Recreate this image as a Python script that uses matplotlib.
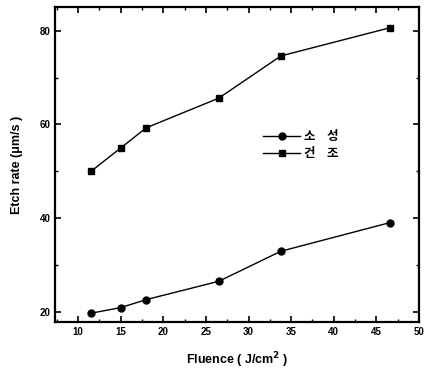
import matplotlib
matplotlib.use("Agg")
import matplotlib.pyplot as plt
from matplotlib.ticker import MultipleLocator

plt.rcParams['font.family'] = ['Liberation Sans', 'Noto Sans CJK KR', 'DejaVu Sans']
plt.rcParams['font.weight'] = 'bold'

# 데이터
fluence = [11.5, 15.0, 18.0, 26.5, 33.8, 46.6]
sosung = [19.8, 21.0, 22.7, 26.6, 33.0, 39.1]    # 소성
gunjo = [50.0, 55.0, 59.3, 65.6, 74.6, 80.6]     # 건조
labels = ["소    성", "건    조"]

fig = plt.figure(figsize=(4.24, 3.69), dpi=100)
ax = fig.add_axes([0.13, 0.127, 0.858, 0.855])

ax.plot(fluence, sosung, color="black", lw=1, marker="o", ms=5, label=labels[0])
ax.plot(fluence, gunjo, color="black", lw=1, marker="s", ms=4.5, label=labels[1])

ax.set_xlim(7.3, 50)
ax.set_ylim(17.9, 85.1)
ax.xaxis.set_major_locator(MultipleLocator(5))
ax.xaxis.set_minor_locator(MultipleLocator(2.5))
ax.yaxis.set_major_locator(MultipleLocator(20))
ax.yaxis.set_minor_locator(MultipleLocator(10))
ax.tick_params(which="both", direction="in", top=True, right=True, labelsize=7)
ax.tick_params(which="major", length=4, width=1.2)
ax.tick_params(which="minor", length=2, width=1)
for s in ax.spines.values():
    s.set_linewidth(1.6)

ax.set_xlabel("Fluence ( J/cm$^\\mathbf{2}$ )", fontsize=9, fontweight="bold", labelpad=10)
ax.set_ylabel("Etch rate (μm/s )", fontsize=9, fontweight="bold", labelpad=12)

ax.legend(loc="upper left", bbox_to_anchor=(0.54, 0.645), frameon=False,
          handlelength=3.0, labelspacing=0.35, handletextpad=0.3,
          prop={'family': ['Noto Sans CJK KR'], 'weight': 'bold', 'size': 9})

fig.savefig("out.png", dpi=100)
